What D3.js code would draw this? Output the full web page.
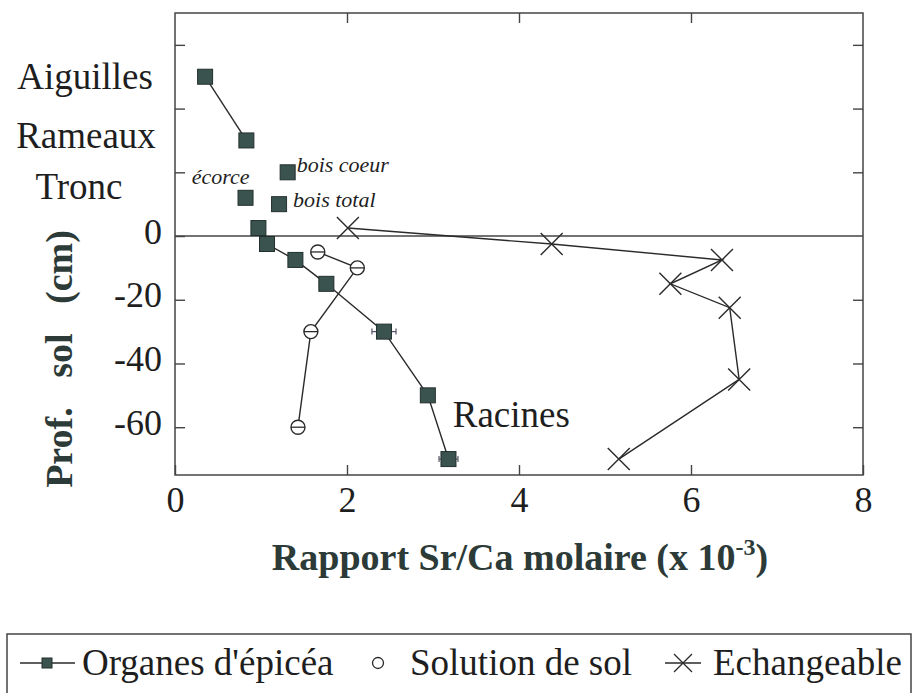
<!DOCTYPE html>
<html>
<head>
<meta charset="utf-8">
<script src="https://cdn.jsdelivr.net/npm/d3@7"></script>
<style>
  body { margin: 0; background: #fff; }
  svg text { font-family: "Liberation Serif", Tinos, "Times New Roman", serif; }
  .ax line { stroke: #444; stroke-width: 1.4; }
  .ax text { font-size: 36px; fill: #1e1e1e; }
</style>
</head>
<body>
<svg id="chart" width="914" height="693"></svg>
<script>
// ---- data ----
// tree organs (above ground), Sr/Ca x 1e-3, pseudo-height used for placing
var organNames = ['Aiguilles', 'Rameaux', 'bois coeur', 'écorce', 'bois total']
var organRatio = [0.35, 0.83, 1.31, 0.82, 1.21]
var organLevel = [50, 30, 20, 12, 10]

// roots, by soil depth (cm)
var rootDepth = [2.5, -2.5, -7.5, -15, -30, -50, -70]
var rootRatio = [0.97, 1.07, 1.40, 1.76, 2.43, 2.94, 3.18]
var rootErr = [0, 0, 0, 0.08, 0.14, 0, 0.11]

// soil solution
var solDepth = [-5, -10, -30, -60]
var solRatio = [1.66, 2.12, 1.58, 1.43]
var solErr = [0.08, 0.08, 0.08, 0.08]

// exchangeable
var exchDepth = [2.5, -2.5, -7.5, -15, -22.5, -45, -70]
var exchRatio = [2.01, 4.38, 6.36, 5.76, 6.45, 6.56, 5.16]

// compartment labels on the left
var treeLabels = ['Aiguilles', 'Rameaux', 'Tronc']
var treeLabelLevel = [50, 31.5, 15.5]

var xTicks = [0, 2, 4, 6, 8]
var yTicks = [-60, -40, -20, 0, 20, 40, 60]
var legendNames = ["Organes d'épicéa", 'Solution de sol', 'Echangeable']

;(function () {
  var svg = d3.select('#chart')
  var left = 175, right = 863, top = 13, bottom = 475
  var ink = '#2a2a2a'
  var squareFill = '#3b534e'
  var serif = '"Liberation Serif", Tinos, "Times New Roman", serif'

  var x = d3.scaleLinear().domain([0, 8]).range([left, right])
  var y = d3.scaleLinear().domain([-75, 70]).range([bottom, top])

  // frame
  svg.append('rect')
      .attr('x', left).attr('y', top)
      .attr('width', right - left).attr('height', bottom - top)
      .attr('fill', 'none').attr('stroke', '#444').attr('stroke-width', 1.5)

  // axes, ticks pointing inward
  var xBottom = d3.axisBottom(x).tickValues(xTicks).tickSizeInner(-10).tickSizeOuter(0).tickPadding(0)
  var gxb = svg.append('g').classed('ax', true)
      .attr('transform', `translate(0,${bottom})`)
      .call(xBottom)
  gxb.selectAll('text').attr('y', 37).attr('dy', 0)

  svg.append('g').classed('ax', true)
      .attr('transform', `translate(0,${top})`)
      .call(d3.axisTop(x).tickValues([2, 4, 6]).tickSizeInner(-10).tickSizeOuter(0).tickFormat(''))

  var yLeft = d3.axisLeft(y).tickValues(yTicks).tickSizeInner(-10).tickSizeOuter(0).tickPadding(13)
      .tickFormat(d => d <= 0 ? String(d) : '')
  var gyl = svg.append('g').classed('ax', true)
      .attr('transform', `translate(${left},0)`)
      .call(yLeft)
  gyl.selectAll('text').attr('dy', 7)

  svg.append('g').classed('ax', true)
      .attr('transform', `translate(${right},0)`)
      .call(d3.axisRight(y).tickValues(yTicks.filter(d => d !== 0)).tickSizeInner(-10).tickSizeOuter(0).tickFormat(''))

  svg.selectAll('.ax .domain').remove()
  svg.selectAll('.ax').attr('font-family', serif).attr('font-size', 36)

  // zero line (soil surface)
  svg.append('line')
      .attr('x1', left).attr('x2', right)
      .attr('y1', y(0)).attr('y2', y(0))
      .attr('stroke', '#444').attr('stroke-width', 1.4)

  /*
      --------------------------------------
      Series
  */
  var line = d3.line().x(d => x(d[0])).y(d => y(d[1]))
  var lineStyle = function (sel) {
    sel.attr('fill', 'none').attr('stroke', ink).attr('stroke-width', 1.4)
  }

  var organs = organNames.map((n, i) => ({name: n, v: organRatio[i], d: organLevel[i]}))
  var roots = rootDepth.map((d, i) => ({v: rootRatio[i], d: d, e: rootErr[i]}))
  var sols = solDepth.map((d, i) => ({v: solRatio[i], d: d, e: solErr[i]}))
  var exch = exchDepth.map((d, i) => [exchRatio[i], d])

  // lines
  svg.append('path').attr('d', line(organs.slice(0, 2).map(o => [o.v, o.d]))).call(lineStyle)
  svg.append('path').attr('d', line(roots.map(o => [o.v, o.d]))).call(lineStyle)
  svg.append('path').attr('d', line(sols.map(o => [o.v, o.d]))).call(lineStyle)
  svg.append('path').attr('d', line(exch)).call(lineStyle)

  // exchangeable: crosses
  var xs = 11
  svg.append('g').selectAll('path.cross')
      .data(exch)
      .join('path')
      .attr('d', d => `M${x(d[0]) - xs},${y(d[1]) - xs}L${x(d[0]) + xs},${y(d[1]) + xs}M${x(d[0]) - xs},${y(d[1]) + xs}L${x(d[0]) + xs},${y(d[1]) - xs}`)
      .attr('stroke', ink).attr('stroke-width', 1.4).attr('fill', 'none')

  // soil solution: open circles with horizontal error bar
  var gs = svg.append('g').selectAll('g').data(sols).join('g')
  gs.append('circle')
      .attr('cx', d => x(d.v)).attr('cy', d => y(d.d)).attr('r', 7)
      .attr('fill', '#fff').attr('stroke', ink).attr('stroke-width', 1.4)
  gs.append('line')
      .attr('x1', d => x(d.v - d.e)).attr('x2', d => x(d.v + d.e))
      .attr('y1', d => y(d.d)).attr('y2', d => y(d.d))
      .attr('stroke', ink).attr('stroke-width', 1.3)

  // roots error bars
  var ge = svg.append('g').selectAll('g').data(roots.filter(r => r.e > 0)).join('g')
  ge.append('line')
      .attr('x1', d => x(d.v - d.e)).attr('x2', d => x(d.v + d.e))
      .attr('y1', d => y(d.d)).attr('y2', d => y(d.d))
      .attr('stroke', '#556').attr('stroke-width', 1.2)
  ge.selectAll('line.cap').data(d => [[d.v - d.e, d.d], [d.v + d.e, d.d]]).join('line')
      .attr('x1', d => x(d[0])).attr('x2', d => x(d[0]))
      .attr('y1', d => y(d[1]) - 3).attr('y2', d => y(d[1]) + 3)
      .attr('stroke', '#556').attr('stroke-width', 1.2)

  // squares: organs + roots
  var sq = 15
  svg.append('g').selectAll('rect')
      .data(organs.map(o => [o.v, o.d]).concat(roots.map(o => [o.v, o.d])))
      .join('rect')
      .attr('x', d => x(d[0]) - sq / 2).attr('y', d => y(d[1]) - sq / 2)
      .attr('width', sq).attr('height', sq)
      .attr('fill', squareFill).attr('stroke', '#22302d').attr('stroke-width', 1)

  /*
      --------------------------------------
      Annotations
  */
  var ital = {'écorce': [4, -14, 'end'], 'bois coeur': [9, 0, 'start'], 'bois total': [14, 3, 'start']}
  svg.append('g').selectAll('text')
      .data(organs.filter(o => ital[o.name]))
      .join('text')
      .attr('x', d => x(d.v) + ital[d.name][0])
      .attr('y', d => y(d.d) + ital[d.name][1])
      .attr('text-anchor', d => ital[d.name][2])
      .attr('font-family', serif)
      .attr('font-style', 'italic').attr('font-size', 22).attr('fill', '#1e1e1e')
      .text(d => d.name)

  var labelX = [85, 86, 79]
  svg.append('g').selectAll('text')
      .data(treeLabels)
      .join('text')
      .attr('x', (d, i) => labelX[i])
      .attr('y', (d, i) => y(treeLabelLevel[i]) + 12)
      .attr('text-anchor', 'middle')
      .attr('font-family', serif)
      .attr('font-size', 37).attr('fill', '#1e1e1e')
      .text(d => d)

  svg.append('text')
      .attr('x', x(3.23)).attr('y', y(-60))
      .attr('font-family', serif)
      .attr('font-size', 37).attr('fill', '#1e1e1e')
      .text('Racines')

  // axis titles
  var xt = svg.append('text')
      .attr('x', 520).attr('y', 570)
      .attr('text-anchor', 'middle')
      .attr('font-family', serif)
      .attr('font-size', 38).attr('font-weight', 'bold').attr('fill', '#2c3a38')
  xt.append('tspan').text('Rapport Sr/Ca molaire (x 10')
  xt.append('tspan').attr('font-size', 24).attr('dy', -15).text('-3')
  xt.append('tspan').attr('dy', 15).text(')')

  svg.append('text')
      .attr('transform', 'translate(72,359) rotate(-90)')
      .attr('text-anchor', 'middle')
      .attr('font-family', serif)
      .attr('font-size', 38).attr('font-weight', 'bold').attr('fill', '#2c3a38')
      .style('word-spacing', '20px')
      .text('Prof. sol (cm)')

  /*
      --------------------------------------
      Legend
  */
  var lg = svg.append('g')
  lg.append('rect')
      .attr('x', 7).attr('y', 634).attr('width', 904).attr('height', 90)
      .attr('fill', 'none').attr('stroke', '#444').attr('stroke-width', 1.5)
  var ly = 663
  lg.append('line').attr('x1', 20).attr('x2', 75).attr('y1', ly).attr('y2', ly)
      .attr('stroke', ink).attr('stroke-width', 1.4)
  lg.append('rect').attr('x', 42).attr('y', ly - 5).attr('width', 10).attr('height', 10)
      .attr('fill', squareFill).attr('stroke', '#22302d')
  lg.append('circle').attr('cx', 378).attr('cy', ly).attr('r', 5.5)
      .attr('fill', '#fff').attr('stroke', ink).attr('stroke-width', 1.3)
  lg.append('line').attr('x1', 665).attr('x2', 701).attr('y1', ly).attr('y2', ly)
      .attr('stroke', ink).attr('stroke-width', 1.4)
  lg.append('path')
      .attr('d', `M${683 - 9},${ly - 9}L${683 + 9},${ly + 9}M${683 - 9},${ly + 9}L${683 + 9},${ly - 9}`)
      .attr('stroke', ink).attr('stroke-width', 1.3)
  var legendX = [82, 410, 713]
  lg.selectAll('text.lt')
      .data(legendNames)
      .join('text')
      .attr('x', (d, i) => legendX[i]).attr('y', 675)
      .attr('font-family', serif)
      .attr('font-size', 37).attr('fill', '#1e1e1e')
      .text(d => d)
})()
</script>
</body>
</html>
